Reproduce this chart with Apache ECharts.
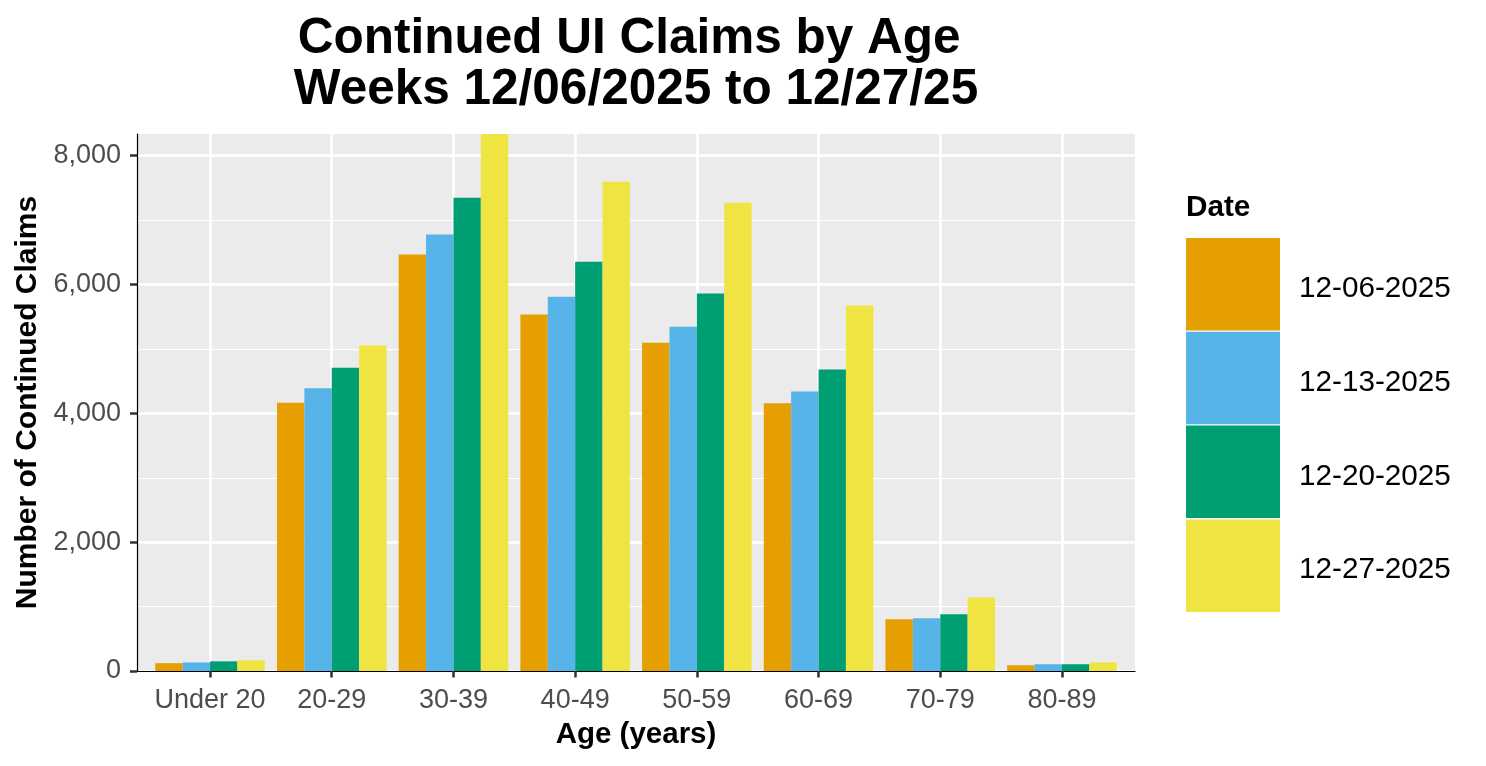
<!DOCTYPE html>
<html><head><meta charset="utf-8">
<script src="https://cdn.jsdelivr.net/npm/echarts@6/dist/echarts.min.js"></script>
<style>html,body{margin:0;padding:0;background:#fff}#c{width:1486px;height:766px}</style>
</head><body><div id="c"></div>
<script>
const categories = ['Under 20','20-29','30-39','40-49','50-59','60-69','70-79','80-89'];
const dates = ['12-06-2025','12-13-2025','12-20-2025','12-27-2025'];
const claims_1206 = [122, 4166, 6465, 5535, 5097, 4155, 803, 89];
const claims_1213 = [133, 4388, 6776, 5812, 5346, 4338, 820, 105];
const claims_1220 = [150, 4709, 7346, 6355, 5861, 4681, 881, 105];
const claims_1227 = [166, 5053, 8337, 7596, 7269, 5673, 1141, 133];
const colors = ['#E69F00', '#56B4E9', '#009E73', '#F0E442'];
const yTickStep = 2000;

const allSeries = [claims_1206, claims_1213, claims_1220, claims_1227];
const yMax = Math.max(...allSeries.flat());
const FONT = 'Liberation Sans, Arial, sans-serif';

const chart = echarts.init(document.getElementById('c'), null, {renderer: 'canvas'});
chart.setOption({
  animation: false,
  backgroundColor: '#ffffff',
  color: colors,
  title: {
    text: 'Continued UI Claims by Age \nWeeks 12/06/2025 to 12/27/25',
    left: 631, top: 9, textAlign: 'center',
    textStyle: {fontFamily: FONT, fontSize: 49.5, fontWeight: 'bold', color: '#000', lineHeight: 51}
  },
  graphic: [{
    type: 'text', left: 1186, top: 193,
    style: {text: 'Date', fontFamily: FONT, fontSize: 29.7, fontWeight: 'bold', fill: '#000'}
  }],
  legend: {
    orient: 'vertical', left: 1186, top: 238, padding: 0,
    itemWidth: 94, itemHeight: 92.5, itemGap: 1.3,
    icon: 'rect',
    formatter: n => '{t|' + n + '}',
    textStyle: {fontFamily: FONT, fontSize: 29.7, color: '#000',
      rich: {t: {fontFamily: FONT, fontSize: 29.7, color: '#000', padding: [9, 0, 0, 14]}}},
    data: dates
  },
  grid: [
    {left: 137, right: 351, top: 134, bottom: 95, show: true, backgroundColor: '#EBEBEB', borderWidth: 0},
    {left: 149.2, right: 363.2, top: 134, bottom: 95, show: false}
  ],
  xAxis: [
    {gridIndex: 0, type: 'value', min: 0, max: 1,
     axisLine: {show: true, lineStyle: {color: '#000', width: 1.2}},
     axisTick: {show: false}, axisLabel: {show: false}, splitLine: {show: false}},
    {gridIndex: 1, type: 'category', data: categories, z: 1,
     axisLine: {show: false},
     axisTick: {show: true, alignWithLabel: true, length: 6.5, lineStyle: {color: '#333', width: 2.5}},
     axisLabel: {interval: 0, fontFamily: FONT, fontSize: 27, color: '#4D4D4D', margin: 16, lineHeight: 27},
     splitLine: {show: false},
     name: 'Age (years)', nameLocation: 'middle', nameGap: 49,
     nameTextStyle: {fontFamily: FONT, fontSize: 29.5, fontWeight: 'bold', color: '#000', lineHeight: 29}},
    {gridIndex: 1, type: 'category', data: categories, z: 1,
     axisLine: {show: false}, axisLabel: {show: false},
     axisTick: {show: true, inside: true, interval: 0, alignWithLabel: true, length: 537, lineStyle: {color: '#ffffff', width: 2.6}},
     splitLine: {show: false}}
  ],
  yAxis: [
    {gridIndex: 0, type: 'value', min: 0, max: yMax, interval: yTickStep,
     axisLine: {show: true, lineStyle: {color: '#000', width: 1.2}},
     axisTick: {show: true, length: 7, lineStyle: {color: '#333', width: 2.5}},
     axisLabel: {fontFamily: FONT, fontSize: 27, color: '#4D4D4D', margin: 16, showMaxLabel: false,
       formatter: v => v.toLocaleString('en-US')},
     splitLine: {show: true, showMaxLine: false, lineStyle: {color: '#ffffff', width: 2.6}},
     minorTick: {show: false, splitNumber: 2},
     minorSplitLine: {show: true, lineStyle: {color: '#ffffff', width: 1.2}},
     name: 'Number of Continued Claims', nameLocation: 'middle', nameGap: 84,
     nameTextStyle: {fontFamily: FONT, fontSize: 30, fontWeight: 'bold', color: '#000', lineHeight: 30}},
    {gridIndex: 1, type: 'value', min: 0, max: yMax, show: false, splitLine: {show: false}}
  ],
  series: allSeries.map((d, i) => ({
    name: dates[i], type: 'bar', xAxisIndex: 1, yAxisIndex: 1, data: d,
    barGap: '0%', barCategoryGap: '10%', z: 3,
    itemStyle: {color: colors[i]}
  }))
});
</script></body></html>
